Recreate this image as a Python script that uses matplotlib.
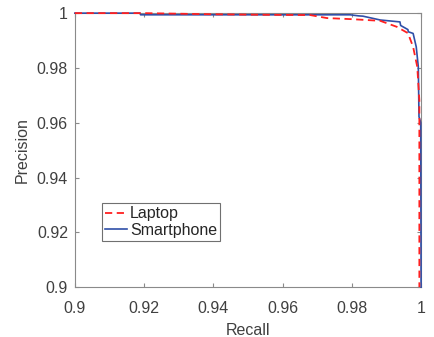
import matplotlib.pyplot as plt

plt.rcParams['font.family'] = ['Liberation Sans', 'DejaVu Sans']

# precision / recall curves
laptop_recall = [0.9, 0.9202, 0.939, 0.955, 0.968, 0.9728, 0.980, 0.9882, 0.9930,
                 0.9962, 0.9977, 0.9989, 0.9995, 0.9995]
laptop_precision = [1.0, 1.0, 0.9996, 0.9994, 0.9993, 0.9982, 0.9978, 0.9972, 0.9950,
                    0.9927, 0.9877, 0.9804, 0.9682, 0.9]

phone_recall = [0.9, 0.9188, 0.9190, 0.9795, 0.9820, 0.9832, 0.9882, 0.9939, 0.9941,
                0.9948, 0.9962, 0.9963, 0.9977, 0.9986, 0.9992, 0.9994, 0.9999, 1.0]
phone_precision = [1.0, 1.0, 0.9994, 0.9994, 0.9990, 0.9989, 0.9975, 0.9968, 0.9955,
                   0.9950, 0.9940, 0.9932, 0.9926, 0.9877, 0.9804, 0.9622, 0.960, 0.9]

xticks = [0.9, 0.92, 0.94, 0.96, 0.98, 1.0]
xlabels = ['0.9', '0.92', '0.94', '0.96', '0.98', '1']
yticks = [0.9, 0.92, 0.94, 0.96, 0.98, 1.0]
ylabels = ['0.9', '0.92', '0.94', '0.96', '0.98', '1']

fig = plt.figure(figsize=(4.35, 3.37), dpi=100)
ax = fig.add_axes([0.172, 0.148, 0.796, 0.813])

for s in ax.spines.values():
    s.set_color('#8a8a8a')
    s.set_linewidth(0.8)
    s.set_zorder(1)

ax.plot(laptop_recall, laptop_precision, '--', color='#ff2020', lw=1.3, label='Laptop',
        dashes=(4, 2.5), clip_on=False, zorder=4)
ax.plot(phone_recall, phone_precision, '-', color='#2f4fa8', lw=1.2, label='Smartphone',
        clip_on=False, zorder=3)

ax.set_xlim(0.9, 1.0)
ax.set_ylim(0.9, 1.0)
ax.set_xticks(xticks)
ax.set_xticklabels(xlabels)
ax.set_yticks(yticks)
ax.set_yticklabels(ylabels)
ax.tick_params(direction='in', length=3, top=True, right=True, labelsize=11.5,
               colors='#8a8a8a', labelcolor='#404040', width=0.8)
ax.tick_params(axis='x', pad=10)
ax.tick_params(axis='y', pad=5)

ax.set_xlabel('Recall', fontsize=11.5, color='#404040', labelpad=5)
ax.set_ylabel('Precision', fontsize=11.5, color='#404040', labelpad=5)

leg = ax.legend(loc='upper left', bbox_to_anchor=(0.078, 0.307), fontsize=11.5,
                handlelength=1.4, handletextpad=0.15, borderpad=0.2, labelspacing=0.1,
                fancybox=False, framealpha=1, borderaxespad=0)
leg.get_frame().set_edgecolor('#707070')
leg.get_frame().set_linewidth(0.8)
for t in leg.get_texts():
    t.set_color('#262626')

fig.savefig('out.png', dpi=100)
